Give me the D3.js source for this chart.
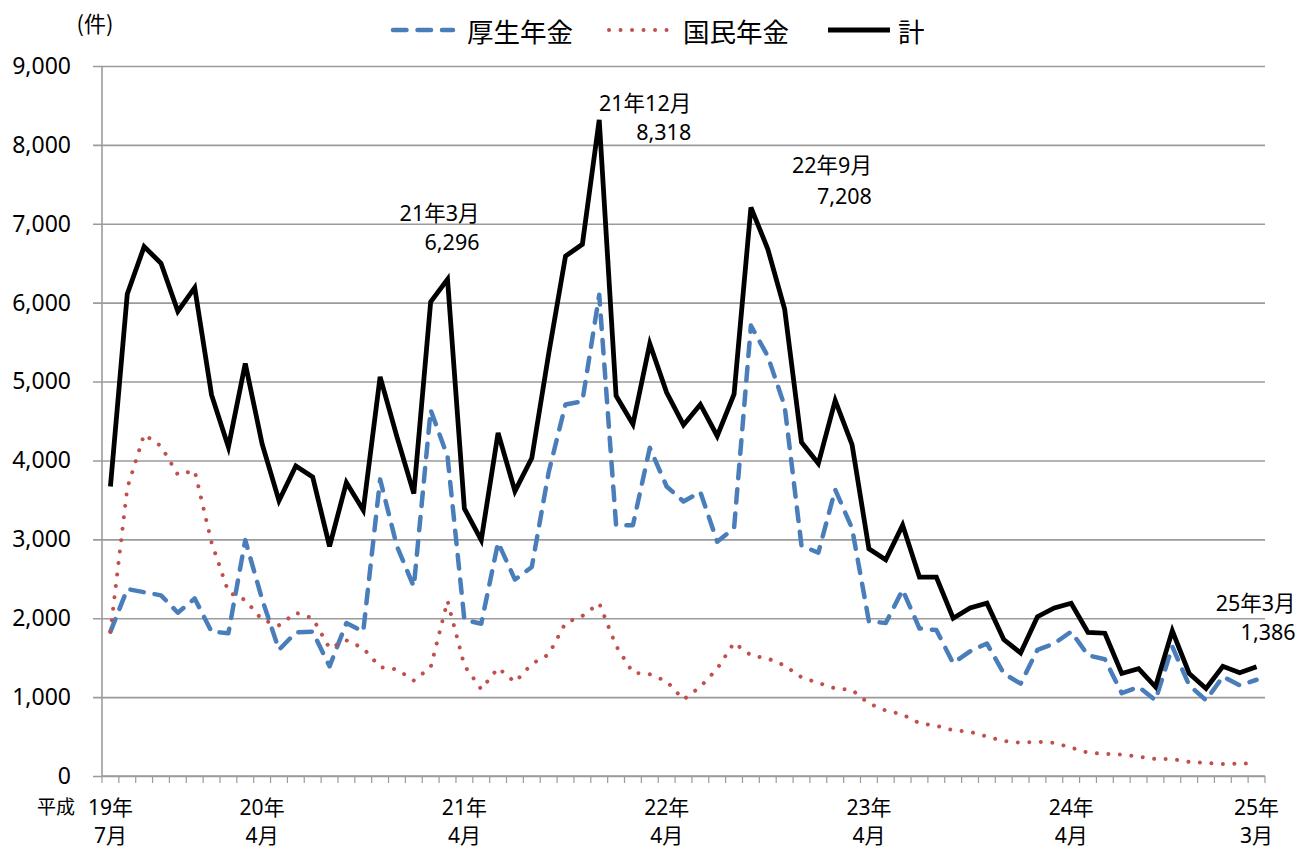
<!DOCTYPE html>
<html lang="ja">
<head>
<meta charset="utf-8">
<title>年金 件数の推移</title>
<script src="https://cdn.jsdelivr.net/npm/d3@7"></script>
<style>
    html, body { margin: 0; padding: 0; background: #fff; }
    svg { display: block; font-family: "Noto Sans", "Noto Sans CJK JP", sans-serif; }
</style>
</head>
<body>
<div id="chart"></div>
<script>
// 平成19年7月 〜 平成25年3月 (月次)
const months = [
    "19.7", "19.8", "19.9", "19.10", "19.11", "19.12",
    "20.1", "20.2", "20.3", "20.4", "20.5", "20.6", "20.7", "20.8", "20.9", "20.10", "20.11", "20.12",
    "21.1", "21.2", "21.3", "21.4", "21.5", "21.6", "21.7", "21.8", "21.9", "21.10", "21.11", "21.12",
    "22.1", "22.2", "22.3", "22.4", "22.5", "22.6", "22.7", "22.8", "22.9", "22.10", "22.11", "22.12",
    "23.1", "23.2", "23.3", "23.4", "23.5", "23.6", "23.7", "23.8", "23.9", "23.10", "23.11", "23.12",
    "24.1", "24.2", "24.3", "24.4", "24.5", "24.6", "24.7", "24.8", "24.9", "24.10", "24.11", "24.12",
    "25.1", "25.2", "25.3"
];

// 厚生年金
const kosei = [
    1830, 2370, 2330, 2290, 2070, 2250,
    1830, 1810, 2990, 2240, 1600, 1820, 1830, 1390, 1940, 1830, 3760, 2910,
    2400, 4640, 4050, 1980, 1930, 2960, 2490, 2650, 3850, 4710, 4750, 6100,
    3180, 3180, 4160, 3670, 3480, 3600, 2970, 3140, 5710, 5320, 4690, 2920,
    2830, 3630, 3140, 1960, 1940, 2360, 1870, 1850, 1430, 1580, 1680, 1300,
    1170, 1600, 1680, 1830, 1530, 1480, 1050, 1130, 960, 1640, 1150, 960,
    1260, 1150, 1220
];

// 国民年金
const kokumin = [
    1830, 3650, 4330, 4180, 3820, 3870,
    2960, 2330, 2230, 1980, 1910, 2070, 2000, 1620, 1720, 1620, 1380, 1350,
    1210, 1380, 2220, 1400, 1100, 1370, 1190, 1420, 1540, 1940, 2030, 2190,
    1650, 1310, 1290, 1200, 970, 1130, 1360, 1690, 1530, 1490, 1400, 1250,
    1180, 1110, 1090, 920, 830, 780, 670, 636, 580, 560, 500, 444,
    422, 435, 420, 360, 295, 280, 272, 245, 215, 215, 178, 165,
    152, 158, 158
];

// 計
const total = [
    3670, 6110, 6710, 6500, 5890, 6190,
    4830, 4170, 5230, 4210, 3490, 3930, 3790, 2910, 3720, 3370, 5060, 4300,
    3580, 6010, 6296, 3390, 2990, 4350, 3610, 4030, 5350, 6590, 6740, 8318,
    4820, 4460, 5480, 4860, 4450, 4710, 4310, 4840, 7208, 6680, 5920, 4230,
    3960, 4760, 4200, 2880, 2740, 3180, 2520, 2520, 2000, 2130, 2190, 1730,
    1560, 2020, 2130, 2190, 1820, 1810, 1300, 1360, 1130, 1840, 1300, 1110,
    1390, 1310, 1386
];

// x軸ラベル
const tickMonths = ["19.7", "20.4", "21.4", "22.4", "23.4", "24.4", "25.3"];
const tickYears = ["19年", "20年", "21年", "22年", "23年", "24年", "25年"];
const tickMonthNames = ["7月", "4月", "4月", "4月", "4月", "4月", "3月"];

const yTicks = [0, 1000, 2000, 3000, 4000, 5000, 6000, 7000, 8000, 9000];

// 注記 (計)
const noteMonths = ["21.3", "21.12", "22.9", "25.3"];
const noteTitles = ["21年3月", "21年12月", "22年9月", "25年3月"];

const seriesNames = ["厚生年金", "国民年金", "計"];

const width = 1297,
    height = 850,
    margin = { top: 66, right: 32, bottom: 74, left: 102 };

const colors = { kosei: "#4a7ebb", kokumin: "#c0504d", total: "#000" };

const svg = d3.select("#chart")
    .append("svg")
    .attr("width", width)
    .attr("height", height);

const x = d3.scalePoint()
    .domain(months)
    .range([margin.left, width - margin.right])
    .padding(0.5);

const y = d3.scaleLinear()
    .domain([0, 9000])
    .range([height - margin.bottom, margin.top]);

const plotW = width - margin.left - margin.right;

// Gridlines + y labels
const yAxis = svg.append("g")
    .attr("transform", `translate(${margin.left},0)`)
    .call(d3.axisLeft(y)
        .tickValues(yTicks)
        .tickSize(-plotW)
        .tickPadding(31)
        .tickFormat(d3.format(",")));

yAxis.select(".domain").remove();
yAxis.selectAll(".tick line")
    .attr("x1", -9)
    .attr("stroke", "#9b9b9b")
    .attr("stroke-width", 1.6);
yAxis.selectAll(".tick text")
    .attr("fill", "#000")
    .style("font-size", "23px")
    .style("font-family", "'Noto Sans', sans-serif");

svg.append("line")
    .attr("x1", margin.left).attr("x2", margin.left)
    .attr("y1", y(9000)).attr("y2", y(0))
    .attr("stroke", "#9b9b9b")
    .attr("stroke-width", 1.6);

// x axis: minor ticks on month boundaries
const xAxis = svg.append("g");
const step = x.step();
const edgeX = (d, i) => i < months.length
    ? x(d) - step / 2
    : x(months[months.length - 1]) + step / 2;

xAxis.append("line")
    .attr("x1", margin.left).attr("x2", width - margin.right)
    .attr("y1", y(0)).attr("y2", y(0))
    .attr("stroke", "#9b9b9b")
    .attr("stroke-width", 1.6);

xAxis.selectAll(".mtick")
    .data(months.concat(["end"]))
    .join("line")
    .attr("class", "mtick")
    .attr("x1", edgeX)
    .attr("x2", edgeX)
    .attr("y1", y(0))
    .attr("y2", y(0) + 7)
    .attr("stroke", "#9b9b9b")
    .attr("stroke-width", 1.2);

const xLabels = xAxis.selectAll(".xlabel")
    .data(tickMonths)
    .join("g")
    .attr("class", "xlabel")
    .attr("transform", d => `translate(${x(d)},0)`)
    .style("font-size", "21px");

xLabels.append("text")
    .attr("y", 807)
    .attr("text-anchor", "middle")
    .attr("dominant-baseline", "central")
    .text((d, i) => tickYears[i]);

xLabels.append("text")
    .attr("y", 835)
    .attr("text-anchor", "middle")
    .attr("dominant-baseline", "central")
    .text((d, i) => tickMonthNames[i]);

xAxis.append("text")
    .attr("x", 56)
    .attr("y", 807)
    .attr("text-anchor", "middle")
    .attr("dominant-baseline", "central")
    .style("font-size", "19px")
    .text("平成");

// unit
svg.append("text")
    .attr("x", 95)
    .attr("y", 22)
    .attr("text-anchor", "middle")
    .attr("dominant-baseline", "central")
    .style("font-size", "22px")
    .style("font-family", "'Noto Sans CJK JP', sans-serif")
    .text("(件)");

// Lines
const line = d3.line()
    .x((d, i) => x(months[i]))
    .y(d => y(d));

const lines = svg.append("g").attr("fill", "none");

lines.append("path")
    .datum(kosei)
    .attr("d", line)
    .attr("stroke", colors.kosei)
    .attr("stroke-width", 4.5)
    .attr("stroke-linecap", "round")
    .attr("stroke-linejoin", "round")
    .attr("stroke-dasharray", "13.5 11");

lines.append("path")
    .datum(kokumin)
    .attr("d", line)
    .attr("stroke", colors.kokumin)
    .attr("stroke-width", 4)
    .attr("stroke-linecap", "round")
    .attr("stroke-dasharray", "0.01 11.5");

lines.append("path")
    .datum(total)
    .attr("d", line)
    .attr("stroke", colors.total)
    .attr("stroke-width", 4.8)
    .attr("stroke-linejoin", "miter");

// Annotations (offsets from the data point)
const noteOffsets = [[32, -67, -38], [92, -17, 12], [121, -43, -12], [39, -64, -35]];

const notes = svg.append("g")
    .selectAll("g")
    .data(noteMonths)
    .join("g")
    .attr("transform", (d, i) => {
        const v = total[months.indexOf(d)];
        return `translate(${x(d) + noteOffsets[i][0]},${y(v)})`;
    })
    .style("font-size", "21.5px");

notes.append("text")
    .attr("y", (d, i) => noteOffsets[i][1])
    .attr("text-anchor", "end")
    .attr("dominant-baseline", "central")
    .text((d, i) => noteTitles[i]);

notes.append("text")
    .attr("y", (d, i) => noteOffsets[i][2])
    .attr("text-anchor", "end")
    .attr("dominant-baseline", "central")
    .text(d => d3.format(",")(total[months.indexOf(d)]));

// Legend
const legendItems = [
    { name: seriesNames[0], color: colors.kosei, dash: "13.5 11", w: 4.5, x: 393 },
    { name: seriesNames[1], color: colors.kokumin, dash: "0.01 11.5", w: 4, x: 609 },
    { name: seriesNames[2], color: colors.total, dash: null, w: 5, x: 828 }
];

const legend = svg.append("g")
    .selectAll("g")
    .data(legendItems)
    .join("g")
    .attr("transform", d => `translate(${d.x},30)`);

legend.append("line")
    .attr("x1", 0).attr("x2", d => d.dash ? 60 : 62)
    .attr("stroke", d => d.color)
    .attr("stroke-width", d => d.w)
    .attr("stroke-linecap", d => d.dash ? "round" : "butt")
    .attr("stroke-dasharray", d => d.dash);

legend.append("text")
    .attr("x", d => d.dash ? 74 : 70)
    .attr("dominant-baseline", "central")
    .style("font-size", "26.5px")
    .style("font-family", "'Noto Sans CJK JP', sans-serif")
    .text(d => d.name);
</script>
</body>
</html>
